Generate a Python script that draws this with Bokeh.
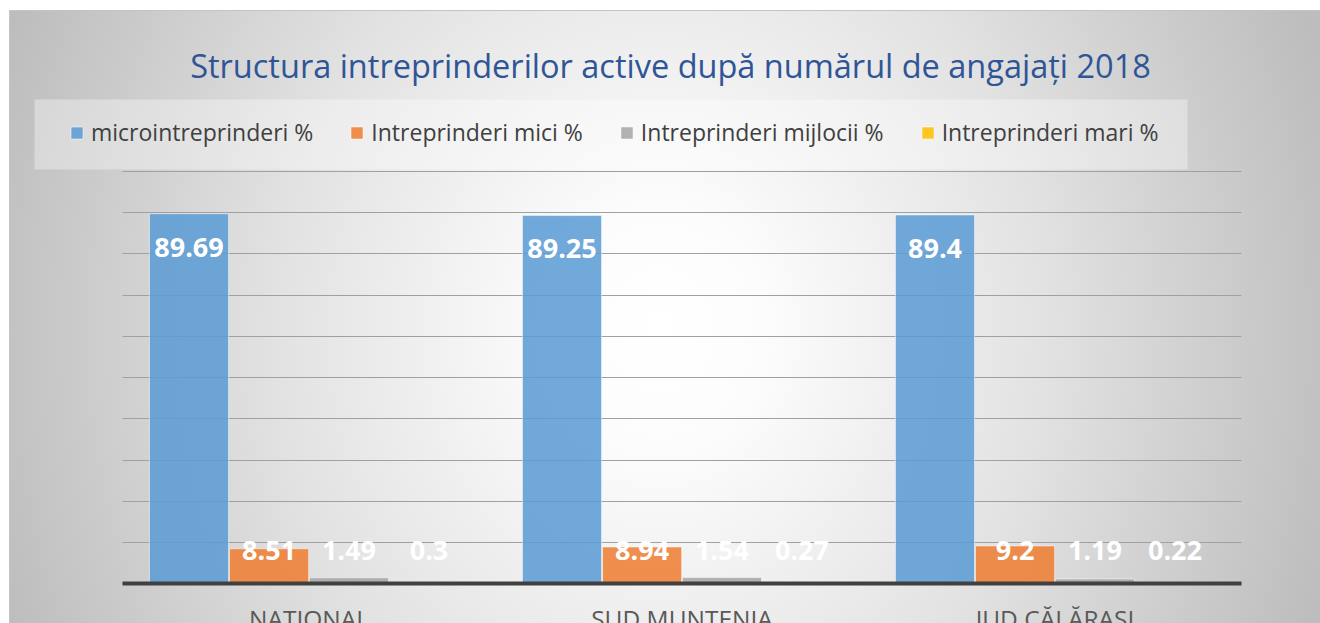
from bokeh.plotting import figure
from bokeh.models import (Range1d, FixedTicker, Legend, LegendItem,
                          Label, ColumnDataSource, BoxAnnotation)
from bokeh.core.properties import value
from bokeh.embed import file_html
from bokeh.resources import INLINE
import numpy as np

# ---------------- data ----------------
title_text = "Structura intreprinderilor active după numărul de angajați 2018"
regions = ["NATIONAL", "SUD MUNTENIA", "JUD CĂLĂRAȘI"]
series_names = ["microintreprinderi %", "Intreprinderi mici %",
                "Intreprinderi mijlocii %", "Intreprinderi mari %"]
micro = [89.69, 89.25, 89.4]
mici = [8.51, 8.94, 9.2]
mijlocii = [1.49, 1.54, 1.19]
mari = [0.3, 0.27, 0.22]
grid_ticks = [0, 10, 20, 30, 40, 50, 60, 70, 80, 90, 100]

# ---------------- style / layout ----------------
colors = ["#5B9BD5", "#ED7D31", "#A5A5A5", "#FFC000"]
FONT = "Open Sans"
W, H = 1320, 623
CAT_PX = 373.0          # pixels per category
PLOT_L, PLOT_R = 122, 1241
PX_PER_UNIT = 4.127
ZERO_PX = 583.4         # y=0 from top of figure

x_start = -PLOT_L / CAT_PX
x_end = len(regions) + (W - PLOT_R) / CAT_PX
y_start = -(H - ZERO_PX) / PX_PER_UNIT
y_end = ZERO_PX / PX_PER_UNIT

p = figure(width=W, height=H, x_range=Range1d(x_start, x_end),
           y_range=Range1d(y_start, y_end), output_backend="svg",
           toolbar_location=None, title=None,
           min_border_left=0, min_border_right=0,
           min_border_top=0, min_border_bottom=0)
p.border_fill_color = None
p.background_fill_color = None
p.outline_line_color = None
p.styles = {
    "background": (
        "linear-gradient(#ffffff,#ffffff) 0 0 / 100% 10px no-repeat, "
        "linear-gradient(#ffffff,#ffffff) 0 0 / 9px 100% no-repeat, "
        "linear-gradient(#c4c4c4,#c4c4c4) 9px 10px / 100% 1px no-repeat, "
        "linear-gradient(#c4c4c4,#c4c4c4) 9px 10px / 1px 100% no-repeat, "
        "radial-gradient(ellipse 700px 800px at 660px 330px, "
        "#ffffff 0%, #fcfcfc 15%, #e2e2e2 55%, #bdbdbd 100%)"
    )
}

p.yaxis.visible = False
p.xgrid.visible = False
yg = p.ygrid[0]
yg.ticker = FixedTicker(ticks=grid_ticks)
yg.grid_line_color = "#a0a0a0"
yg.grid_line_width = 1
n = len(regions)
if hasattr(yg, "cross_bounds"):
    yg.cross_bounds = (0, n)
else:
    p.segment(x0=[0] * len(grid_ticks), x1=[n] * len(grid_ticks),
              y0=grid_ticks, y1=grid_ticks, line_color="#a0a0a0", line_width=1)
    yg.visible = False

centers = np.arange(n) + 0.5
xa = p.xaxis[0]
xa.fixed_location = 0
xa.bounds = (0, n)
xa.ticker = FixedTicker(ticks=list(centers))
xa.major_label_overrides = {float(c): r for c, r in zip(centers, regions)}
xa.axis_line_color = "#404040"
xa.axis_line_width = 4
xa.major_tick_line_color = None
xa.minor_tick_line_color = None
xa.major_label_text_font = FONT
xa.major_label_text_font_size = "24.5px"
xa.major_label_text_color = "#595959"
xa.major_label_standoff = 12

cols = ["micro", "mici", "mijlocii", "mari"]
src = ColumnDataSource(dict(xc=centers, micro=micro, mici=mici,
                            mijlocii=mijlocii, mari=mari))
bar_w = 0.212
offsets = [-0.3217, -0.107, 0.107, 0.3217]

renderers = []
for col, off, c in zip(cols, offsets, colors):
    xs = centers + off
    s = ColumnDataSource(dict(x=xs, top=src.data[col]))
    r = p.vbar(x="x", top="top", width=bar_w, source=s,
               fill_color=c, fill_alpha=0.86,
               line_color="white", line_alpha=0.5, line_width=1)
    renderers.append(r)

# data labels (inside end, clamped near the base for short bars)
for col, off in zip(cols, offsets):
    vals = np.array(src.data[col], dtype=float)
    ly = np.maximum(vals - 8.1, 8.0)
    lsrc = ColumnDataSource(dict(x=centers + off, y=ly,
                                 txt=[str(v) for v in src.data[col]]))
    p.text(x="x", y="y", text="txt", source=lsrc, text_color="white",
           text_font=value(FONT), text_font_style="bold",
           text_font_size="27px", text_align="center",
           text_baseline="middle")

# legend panel background
p.add_layout(BoxAnnotation(left=34, right=1187, top=H - 99, bottom=H - 169,
                           left_units="screen", right_units="screen",
                           top_units="screen", bottom_units="screen",
                           fill_color="white", fill_alpha=0.35,
                           line_color=None, level="underlay"))

legend = Legend(items=[LegendItem(label=nm, renderers=[r])
                       for nm, r in zip(series_names, renderers)],
                orientation="horizontal", location=(69, H - 148),
                margin=0, padding=0, spacing=36,
                glyph_width=15, glyph_height=15, label_standoff=7,
                label_text_font=FONT, label_text_font_size="23px",
                label_text_color="#404040",
                background_fill_alpha=0, border_line_color=None)
p.add_layout(legend, "center")

title = Label(x=670, y=H - 65, x_units="screen", y_units="screen",
              text=title_text, text_align="center", text_baseline="middle",
              text_font=FONT, text_font_size="32.5px", text_color="#2F5597")
p.add_layout(title)

open("out.html", "w").write(file_html(p, INLINE))
